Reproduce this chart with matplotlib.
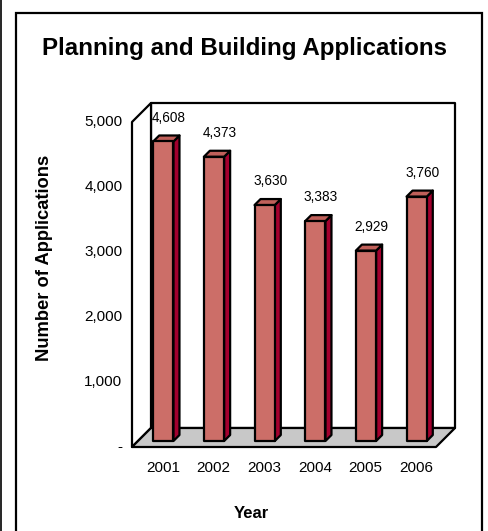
import matplotlib
matplotlib.use("Agg")
import matplotlib.pyplot as plt
from matplotlib.patches import Polygon, Rectangle
from matplotlib.lines import Line2D

plt.rcParams['font.family'] = ['Liberation Sans', 'DejaVu Sans']

years = ['2001', '2002', '2003', '2004', '2005', '2006']
applications = [4608, 4373, 3630, 3383, 2929, 3760]
y_ticks = [0, 1000, 2000, 3000, 4000, 5000]
y_tick_labels = ['-', '1,000', '2,000', '3,000', '4,000', '5,000']

front_col = '#CC6E68'
top_col = '#C0605A'
side_col = '#A3002E'
floor_col = '#C8C8C8'

fig = plt.figure(figsize=(4.88, 5.31), dpi=100)
ax = fig.add_axes([132 / 488, 84 / 531, 304 / 488, 325 / 531])
ax.set_xlim(-0.5, len(years) - 0.5)
ax.set_ylim(0, 5000)
ax.set_axis_off()

depth = 19      # wall depth in pixels (right and up)
bar_d1 = 6      # bar front face depth
bar_d2 = 12     # bar back face depth
bw = 0.4


def shifted(x, y, d):
    # move a data point d pixels back into the "3D" box
    px, py = ax.transData.transform((x, y))
    return ax.transData.inverted().transform((px + d, py + d))


def poly(pts, fc, z, lw=1.6):
    ax.add_patch(Polygon(pts, closed=True, facecolor=fc, edgecolor='black',
                         linewidth=lw, joinstyle='round', zorder=z, clip_on=False))


x0, x1 = -0.5, len(years) - 0.5
# back wall
poly([shifted(x0, 0, depth), shifted(x1, 0, depth),
      shifted(x1, 5000, depth), shifted(x0, 5000, depth)], 'white', 1)
# left wall
poly([(x0, 0), shifted(x0, 0, depth), shifted(x0, 5000, depth), (x0, 5000)], 'white', 2)
# floor
poly([(x0, 0), (x1, 0), shifted(x1, 0, depth), shifted(x0, 0, depth)], floor_col, 3)

# bars
for i, v in enumerate(applications):
    a, b = i - bw / 2, i + bw / 2
    poly([shifted(b, 0, bar_d1), shifted(b, 0, bar_d2),
          shifted(b, v, bar_d2), shifted(b, v, bar_d1)], side_col, 4 + i)
    poly([shifted(a, v, bar_d1), shifted(b, v, bar_d1),
          shifted(b, v, bar_d2), shifted(a, v, bar_d2)], top_col, 4 + i)
    poly([shifted(a, 0, bar_d1), shifted(b, 0, bar_d1),
          shifted(b, v, bar_d1), shifted(a, v, bar_d1)], front_col, 4 + i)
    lx, ly = shifted(i, v, bar_d1)
    ax.annotate(f'{v:,}', (lx, ly), xytext=(4, 12), textcoords='offset points',
                ha='center', va='bottom', fontsize=9.8, zorder=20)

# axis tick labels
for t, lab in zip(y_ticks, y_tick_labels):
    ax.annotate(lab, (x0, t), xytext=(-7, 0), textcoords='offset points',
                ha='right', va='center', fontsize=11)
for i, lab in enumerate(years):
    ax.annotate(lab, (i, 0), xytext=(4, -15), textcoords='offset points',
                ha='center', va='center', fontsize=11)

fig.text(245 / 488, 1 - 48 / 531, 'Planning and Building Applications',
         ha='center', va='center', fontsize=17.4, fontweight='bold')
fig.text(45 / 488, 1 - 258 / 531, 'Number of Applications', rotation=90,
         ha='center', va='center', fontsize=13.2, fontweight='bold')
fig.text(251 / 488, 1 - 514 / 531, 'Year', ha='center', va='center',
         fontsize=12, fontweight='bold')

# outer frame
fig.patches.append(Rectangle((16 / 488, -0.05), (482 - 16) / 488, (531 - 13) / 531 + 0.05,
                             transform=fig.transFigure, fill=False,
                             edgecolor='black', linewidth=1.6))
fig.lines.append(Line2D([0.5 / 488, 0.5 / 488], [0, 1], transform=fig.transFigure,
                        color='black', linewidth=1.2))

fig.savefig('out.png', dpi=100)
